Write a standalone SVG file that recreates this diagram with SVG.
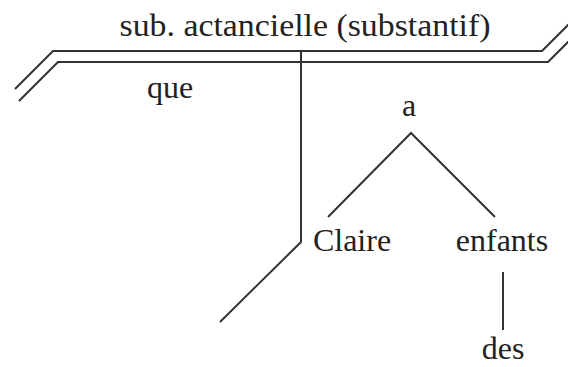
<svg xmlns="http://www.w3.org/2000/svg" width="568" height="367" viewBox="0 0 568 367">
<style>
.t{font-family:"Liberation Serif","Times New Roman",serif;font-size:32px;fill:#222}
.l{stroke:#333;stroke-width:2;fill:none}
</style>
<rect width="568" height="367" fill="#fff"/>
<g id="connectors">
<polyline class="l" points="15,89 53,51 542,51 570,23"/>
<polyline class="l" points="19,101 58,62 548,62 570,40"/>
<polyline class="l" points="301,51 301,242 220,322"/>
<polyline class="l" points="328,217 411,133 495,217"/>
<line class="l" x1="503" y1="272" x2="503" y2="330"/>
</g>
<g id="n-sub"><text class="t" x="305" y="36" text-anchor="middle" textLength="371" lengthAdjust="spacingAndGlyphs">sub. actancielle (substantif)</text></g>
<g id="n-que"><text class="t" x="170" y="98" text-anchor="middle">que</text></g>
<g id="n-a"><text class="t" x="409" y="116" text-anchor="middle">a</text></g>
<g id="n-claire"><text class="t" x="352" y="251" text-anchor="middle">Claire</text></g>
<g id="n-enfants"><text class="t" x="502" y="251" text-anchor="middle">enfants</text></g>
<g id="n-des"><text class="t" x="503" y="359" text-anchor="middle">des</text></g>
</svg>
